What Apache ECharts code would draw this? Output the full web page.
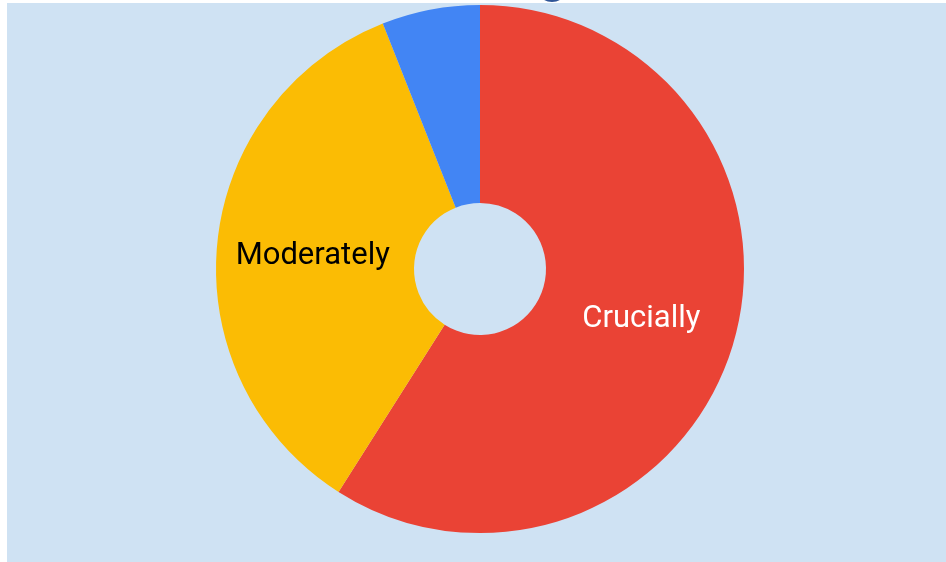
<!DOCTYPE html>
<html>
<head>
<meta charset="utf-8">
<script src="https://cdn.jsdelivr.net/npm/echarts@6/dist/echarts.min.js"></script>
<style>
html,body{margin:0;padding:0;background:#fff;}
#chart{width:946px;height:562px;}
</style>
</head>
<body>
<div id="chart"></div>
<script>
const categories = ['Crucially', 'Moderately', 'Slightly'];
const values = [59, 35, 6];
const colors = ['#EA4335', '#FBBC04', '#4285F4'];
const labelColors = ['#ffffff', '#000000', '#ffffff'];
const showLabels = [true, true, false];

const chart = echarts.init(document.getElementById('chart'));
chart.setOption({
  backgroundColor: '#ffffff',
  animation: false,
  graphic: [
    { type: 'rect', z: 0, shape: { x: 7, y: 3, width: 939, height: 559 }, style: { fill: '#cfe2f3' } },
    { type: 'ellipse', z: 10, shape: { cx: 552, cy: -8, rx: 13, ry: 10 }, style: { fill: '#2f5597' } }
  ],
  series: [{
    type: 'pie',
    center: [480, 269],
    radius: [66, 264],
    startAngle: 90,
    clockwise: true,
    avoidLabelOverlap: false,
    itemStyle: { borderWidth: 0 },
    label: {
      show: true,
      position: 'inside',
      fontFamily: 'Roboto',
      fontSize: 31,
      offset: [0, 3],
      formatter: '{b}'
    },
    labelLine: { show: false },
    emphasis: { disabled: true },
    data: categories.map((c, i) => ({
      name: c,
      value: values[i],
      itemStyle: { color: colors[i] },
      label: { show: showLabels[i], color: labelColors[i] }
    }))
  }]
});
</script>
</body>
</html>
